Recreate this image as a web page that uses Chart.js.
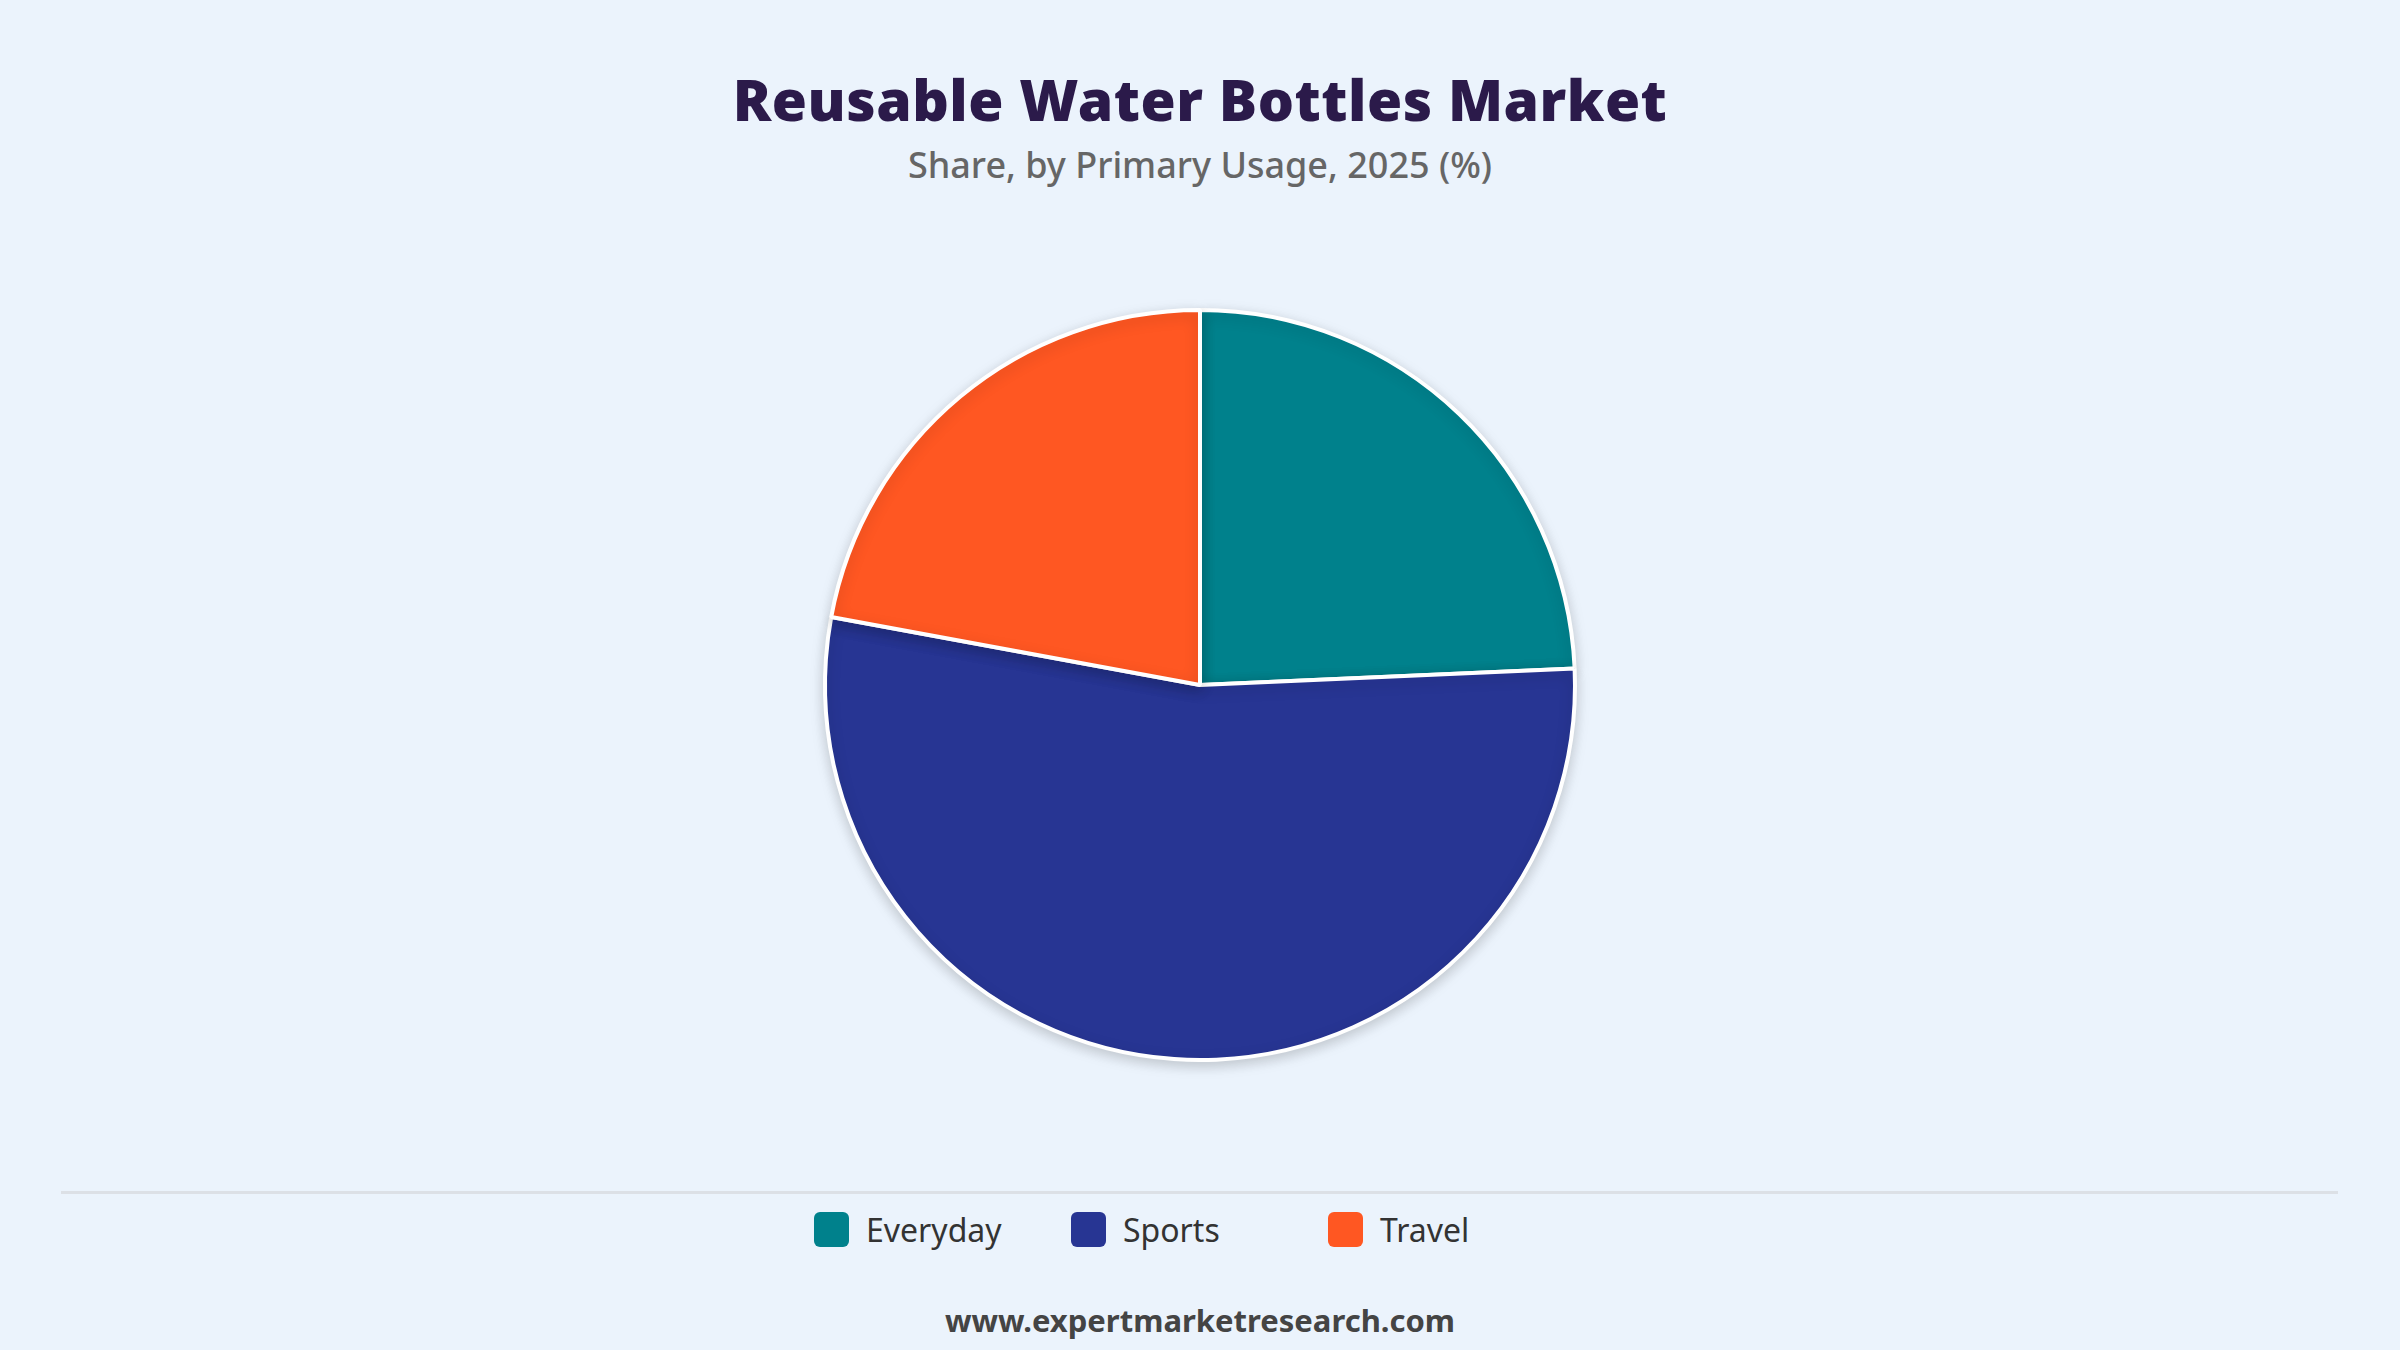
<!DOCTYPE html>
<html><head><meta charset="utf-8">
<script src="https://cdn.jsdelivr.net/npm/chart.js@4"></script>
<style>
html,body{margin:0;padding:0;background:#EBF3FC;width:2400px;height:1350px;overflow:hidden;font-family:"Noto Sans","Open Sans",sans-serif;}
#title{position:absolute;top:60px;width:100%;text-align:center;font-family:"Noto Sans",sans-serif;font-weight:900;font-size:57px;color:#2B1A4A;letter-spacing:0.5px;}
#sub{position:absolute;top:140px;width:100%;text-align:center;font-size:36px;color:#666;font-weight:500;}
#wrap{position:absolute;left:0;top:250px;width:2400px;height:870px;}
#line{position:absolute;left:61px;width:2277px;top:1191px;height:3px;background:#DCE0E6;}
#legend{position:absolute;top:1206px;left:814px;display:flex;}
.it{display:flex;align-items:center;width:257px;font-size:32px;color:#333;height:46px;}
.sw{width:35px;height:35px;border-radius:6px;margin-right:17px;}
#foot{position:absolute;top:1299px;width:100%;text-align:center;font-size:31px;font-weight:700;color:#444;}
</style></head><body>
<div id="title">Reusable Water Bottles Market</div>
<div id="sub">Share, by Primary Usage, 2025 (%)</div>
<div id="wrap"><canvas id="c"></canvas></div>
<div id="line"></div>
<div id="legend"></div>
<div id="foot">www.expertmarketresearch.com</div>
<script>
const categories=["Everyday","Sports","Travel"];
const shares=[24.3,53.6,22.1];
const colors=["#00818C","#273593","#FF5722"];
const lg=document.getElementById('legend');
categories.forEach((c,i)=>{lg.innerHTML+=`<div class="it"><div class="sw" style="background:${colors[i]}"></div>${c}</div>`;});
const shadow={id:'sh',beforeDatasetsDraw(ch){const x=ch.ctx;x.save();x.shadowColor='rgba(0,0,0,0.18)';x.shadowBlur=14;x.shadowOffsetY=4;},afterDatasetsDraw(ch){ch.ctx.restore();}};
new Chart(document.getElementById('c'),{type:'pie',
data:{labels:categories,datasets:[{data:shares,backgroundColor:colors,borderColor:'#fff',borderWidth:4}]},
options:{responsive:true,maintainAspectRatio:false,animation:false,
layout:{padding:{top:58,bottom:58}},
plugins:{legend:{display:false},tooltip:{enabled:false}}},plugins:[shadow]});
</script></body></html>
